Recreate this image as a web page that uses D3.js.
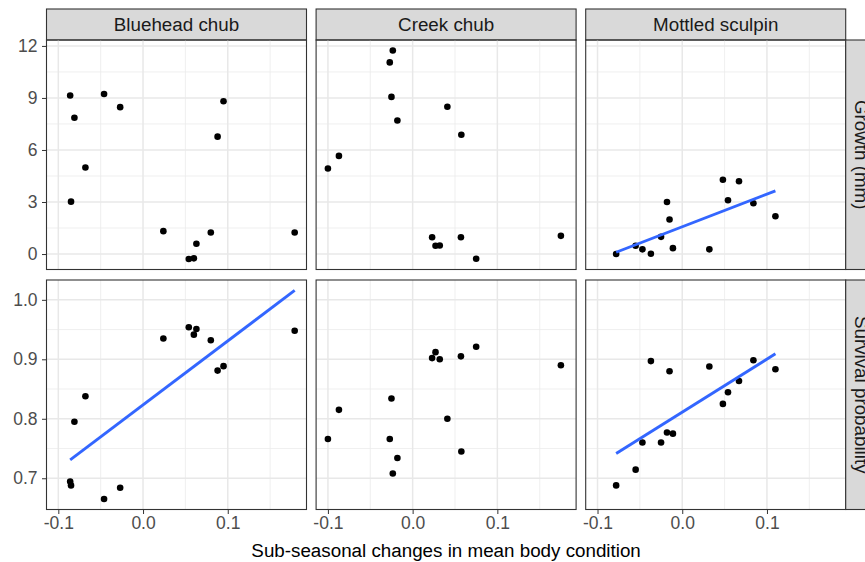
<!DOCTYPE html>
<html>
<head>
<meta charset="utf-8" />
<title>Body condition facets</title>
<script type="text/javascript" src="https://d3js.org/d3.v7.min.js"></script>
<style type="text/css">
    body { margin: 0; background: #fff; }
    svg { display: block; font-family: "Liberation Sans", Arial, sans-serif; }
    .tick text { fill: #4d4d4d; font-size: 17.5px; }
    .tick line { stroke: #333; }
    .domain { display: none; }
</style>
</head>
<body>
<svg></svg>
<script>
    var w = 865, h = 562;

    // facets
    var species = ["Bluehead chub", "Creek chub", "Mottled sculpin"];
    var responses = ["Growth (mm)", "Survival probability"];

    // change in body condition (x), shared by both rows of a column
    var blueheadX = [-0.086, -0.085, -0.081, -0.068, -0.046, -0.027, 0.024, 0.054, 0.060, 0.063, 0.080, 0.088, 0.095, 0.179];
    var blueheadGrowth = [9.14, 3.02, 7.86, 4.99, 9.23, 8.47, 1.32, -0.29, -0.25, 0.59, 1.24, 6.77, 8.81, 1.24];
    var blueheadSurvival = [0.6945, 0.688, 0.795, 0.838, 0.665, 0.684, 0.935, 0.954, 0.9415, 0.951, 0.932, 0.881, 0.8885, 0.948];

    var creekX = [-0.100, -0.087, -0.027, -0.025, -0.0234, -0.018, 0.023, 0.027, 0.032, 0.041, 0.0575, 0.057, 0.075, 0.175];
    var creekGrowth = [4.93, 5.66, 11.05, 9.06, 11.74, 7.70, 0.97, 0.48, 0.49, 8.49, 6.88, 0.97, -0.27, 1.05];
    var creekSurvival = [0.766, 0.815, 0.766, 0.834, 0.708, 0.734, 0.902, 0.912, 0.900, 0.800, 0.745, 0.905, 0.921, 0.890];

    var sculpinX = [-0.078, -0.055, -0.047, -0.037, -0.025, -0.018, -0.015, -0.011, 0.032, 0.048, 0.054, 0.067, 0.084, 0.110];
    var sculpinGrowth = [0.0, 0.48, 0.27, 0.02, 0.99, 3.00, 1.99, 0.34, 0.27, 4.28, 3.10, 4.20, 2.93, 2.18];
    var sculpinSurvival = [0.688, 0.7145, 0.760, 0.897, 0.760, 0.777, 0.880, 0.775, 0.888, 0.825, 0.8445, 0.8634, 0.8985, 0.8834];

    // which panels get a linear fit [growth, survival]
    var fitted = [[false, true], [false, false], [true, true]];

    var xTicks = [-0.1, 0.0, 0.1];
    var yTicks = [[0, 3, 6, 9, 12], [0.7, 0.8, 0.9, 1.0]];
    var xTitle = "Sub-seasonal changes in mean body condition";

    var xs = [blueheadX, creekX, sculpinX];
    var ys = [[blueheadGrowth, blueheadSurvival], [creekGrowth, creekSurvival], [sculpinGrowth, sculpinSurvival]];

    // layout
    var left = 46.5, pw = 260, gap = 9.6;
    var stripTop = 9, stripH = 31;
    var rowTop = [40, 280], ph = 229.5;

    var fmt = d3.formatLocale({decimal: ".", thousands: ",", grouping: [3], currency: ["", ""], minus: "-"});

    var svg = d3.select("svg").attr("width", w).attr("height", h);

    // simple least squares
    function lm(x, y) {
        var mx = d3.mean(x), my = d3.mean(y);
        var sxy = d3.sum(x, (v, i) => (v - mx) * (y[i] - my));
        var sxx = d3.sum(x, v => (v - mx) * (v - mx));
        var b = sxy / sxx;
        return {a: my - b * mx, b: b};
    }

    function expand(ext) {
        var d = (ext[1] - ext[0]) * 0.05;
        return [ext[0] - d, ext[1] + d];
    }

    var x = d3.scaleLinear().domain(expand(d3.extent(d3.merge(xs)))).range([0, pw]);

    var fits = species.map((s, c) => responses.map((r, k) => {
        if (!fitted[c][k]) return null;
        var f = lm(xs[c], ys[c][k]);
        var ext = d3.extent(xs[c]);
        return ext.map(v => [v, f.a + f.b * v]);
    }));

    var yScales = responses.map((r, k) => {
        var vals = d3.merge(species.map((s, c) => ys[c][k]));
        species.forEach((s, c) => { if (fits[c][k]) fits[c][k].forEach(p => vals.push(p[1])); });
        return d3.scaleLinear().domain(expand(d3.extent(vals))).range([ph, 0]);
    });

    function minors(ticks) {
        var out = [];
        for (var i = 0; i < ticks.length - 1; i++) out.push((ticks[i] + ticks[i + 1]) / 2);
        return out;
    }
    var xMinor = minors(xTicks).concat([xTicks[2] + 0.05]);

    species.forEach((s, c) => {
        var px = left + c * (pw + gap);

        // strip on top
        var st = svg.append("g").attr("transform", "translate(" + px + "," + stripTop + ")");
        st.append("rect").attr("width", pw).attr("height", stripH)
            .attr("fill", "#d9d9d9").attr("stroke", "#333").attr("stroke-width", 1.1);
        st.append("text").attr("x", pw / 2).attr("y", stripH / 2).attr("dy", "0.35em")
            .attr("text-anchor", "middle").attr("fill", "#1a1a1a").style("font-size", "18.8px").text(s);

        responses.forEach((r, k) => {
            var y = yScales[k];
            var g = svg.append("g").attr("transform", "translate(" + px + "," + rowTop[k] + ")");

            var dom = y.domain();
            var yMinor = minors(yTicks[k]).filter(v => v > dom[0] && v < dom[1]);

            // grid
            g.selectAll(".xminor").data(xMinor).enter().append("line")
                .attr("x1", d => x(d)).attr("x2", d => x(d)).attr("y1", 0).attr("y2", ph)
                .attr("stroke", "#ebebeb").attr("stroke-width", 0.8);
            g.selectAll(".yminor").data(yMinor).enter().append("line")
                .attr("y1", d => y(d)).attr("y2", d => y(d)).attr("x1", 0).attr("x2", pw)
                .attr("stroke", "#ebebeb").attr("stroke-width", 0.8);
            g.selectAll(".xmajor").data(xTicks).enter().append("line")
                .attr("x1", d => x(d)).attr("x2", d => x(d)).attr("y1", 0).attr("y2", ph)
                .attr("stroke", "#e8e8e8").attr("stroke-width", 1.5);
            g.selectAll(".ymajor").data(yTicks[k]).enter().append("line")
                .attr("y1", d => y(d)).attr("y2", d => y(d)).attr("x1", 0).attr("x2", pw)
                .attr("stroke", "#e8e8e8").attr("stroke-width", 1.5);

            // points
            g.selectAll("circle").data(xs[c]).enter().append("circle")
                .attr("cx", d => x(d)).attr("cy", (d, i) => y(ys[c][k][i]))
                .attr("r", 3.3).attr("fill", "#000");

            // lm line
            if (fits[c][k]) {
                g.append("path").datum(fits[c][k])
                    .attr("d", d3.line().x(d => x(d[0])).y(d => y(d[1])))
                    .attr("stroke", "#3366ff").attr("stroke-width", 2.9).attr("fill", "none");
            }

            // border
            g.append("rect").attr("width", pw).attr("height", ph)
                .attr("fill", "none").attr("stroke", "#333").attr("stroke-width", 1.1);

            if (c == 0) {
                g.append("g").call(d3.axisLeft(y).tickValues(yTicks[k])
                    .tickFormat(k == 0 ? fmt.format("d") : fmt.format(".1f"))
                    .tickSize(4.5).tickPadding(4.5));
            }
            if (k == 1) {
                g.append("g").attr("transform", "translate(0," + ph + ")")
                    .call(d3.axisBottom(x).tickValues(xTicks).tickFormat(fmt.format(".1f"))
                    .tickSize(4.5).tickPadding(3));
            }

            // strip on the right (cut by the window edge, as in the original)
            if (c == species.length - 1) {
                var rs = g.append("g").attr("transform", "translate(" + pw + ",0)");
                rs.append("rect").attr("width", stripH).attr("height", ph)
                    .attr("fill", "#d9d9d9").attr("stroke", "#333").attr("stroke-width", 1.1);
                rs.append("text").attr("transform", "translate(" + stripH / 2 + "," + ph / 2 + ") rotate(90)")
                    .attr("dy", "0.35em").attr("text-anchor", "middle").attr("fill", "#1a1a1a")
                    .style("font-size", "18.8px").text(r);
            }
        });
    });

    svg.append("text")
        .attr("x", left + (3 * pw + 2 * gap) / 2).attr("y", 557)
        .attr("text-anchor", "middle").attr("fill", "#000").style("font-size", "18.8px")
        .text(xTitle);
</script>
</body>
</html>
